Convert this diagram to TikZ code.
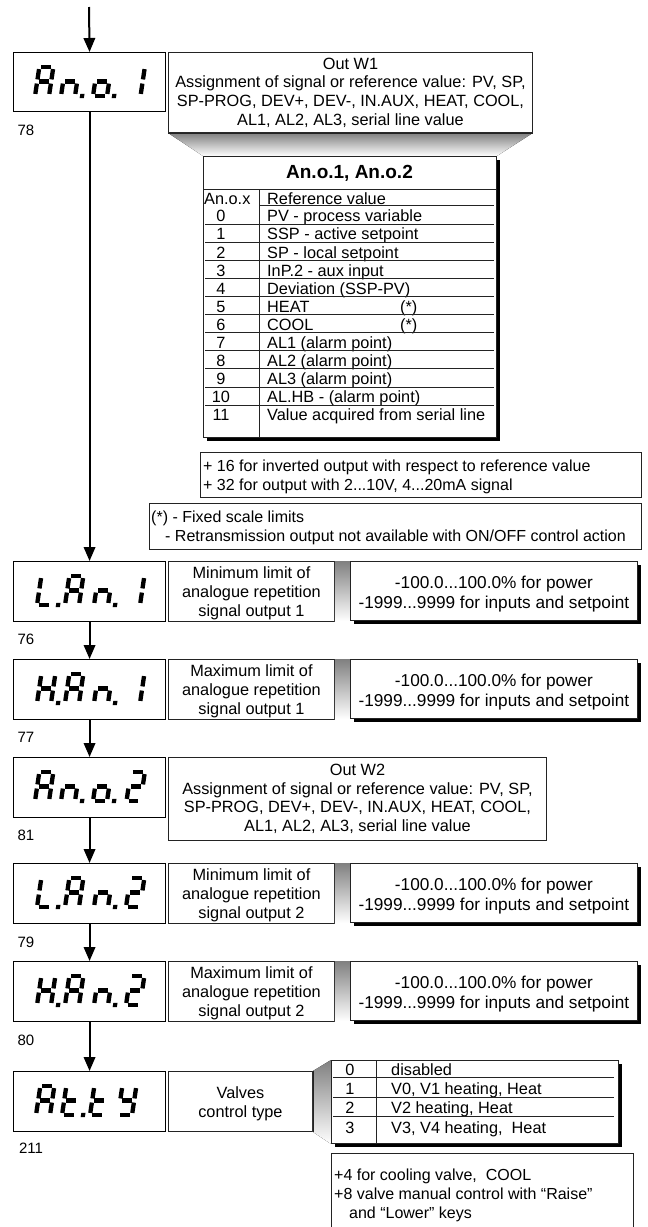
\documentclass[tikz,border=0pt]{standalone}
\usepackage{fontspec}
\setmainfont{Liberation Sans}
\usetikzlibrary{arrows.meta,shadows}
\definecolor{shade}{RGB}{200,200,200}
\definecolor{edge}{RGB}{35,35,35}
\newcommand\fmain{\fontsize{16.3}{18.7}\selectfont}
\newcommand\fnote{\fontsize{16}{18.8}\selectfont}
\newcommand\fval{\fontsize{17.2}{20}\selectfont}
\newcommand\flbl{\fontsize{15}{17}\selectfont}
\newcommand\ftitle{\fontsize{19}{22}\selectfont\bfseries}
% seven-segment glyphs
\newcommand\sgA{\draw[seg] (0,29)--(14,29);}
\newcommand\sgB{\draw[seg] (14,29)--(14,14.5);}
\newcommand\sgC{\draw[seg] (14,14.5)--(14,0);}
\newcommand\sgD{\draw[seg] (0,0)--(14,0);}
\newcommand\sgE{\draw[seg] (0,14.5)--(0,0);}
\newcommand\sgF{\draw[seg] (0,29)--(0,14.5);}
\newcommand\sgG{\draw[seg] (0,14.5)--(14,14.5);}
\newcommand\chA{\sgA\sgB\sgC\sgE\sgF\sgG}
\newcommand\chN{\sgC\sgE\sgG}
\newcommand\chO{\sgC\sgD\sgE\sgG}
\newcommand\chOne{\sgB\sgC}
\newcommand\chTwo{\sgA\sgB\sgG\sgE\sgD}
\newcommand\chL{\sgD\sgE\sgF}
\newcommand\chH{\sgB\sgC\sgE\sgF\sgG}
\newcommand\chT{\sgD\sgE\sgF\sgG}
\newcommand\chY{\sgB\sgC\sgD\sgF\sgG}
\newcommand\chDP{\fill (19,-2.1) rectangle (23.2,2.1);}
\newcommand\lcdglyph[3]{\begin{scope}[shift={(#1,#2)},yscale=-1,xslant=-0.15]#3\end{scope}}
% An.o. style spacing
\newcommand\lcdshowA[6]{%
  \lcdglyph{#1+22}{#2+44}{#3}%
  \lcdglyph{#1+48}{#2+44}{#4}%
  \lcdglyph{#1+80}{#2+44}{#5}%
  \lcdglyph{#1+113.5}{#2+44}{#6}}
% L.An / H.An style spacing
\newcommand\lcdshowB[6]{%
  \lcdglyph{#1+24}{#2+44}{#3}%
  \lcdglyph{#1+52}{#2+44}{#4}%
  \lcdglyph{#1+81}{#2+44}{#5}%
  \lcdglyph{#1+113}{#2+44}{#6}}
\begin{document}
\begin{tikzpicture}[x=1pt,y=-1pt,
  seg/.style={line width=4.3pt,line cap=butt,shorten <=2.1pt,shorten >=2.1pt},
  dispbox/.style={draw=black,line width=1.1pt,fill=white,minimum width=152pt,minimum height=60pt,inner sep=0pt,anchor=north west},
  box/.style={draw=edge,line width=0.9pt,fill=white,inner sep=0pt,anchor=north west,align=center,font=\fmain},
  valbox/.style={box,minimum width=287pt,minimum height=59pt,
     drop shadow={shadow xshift=4pt,shadow yshift=-4pt,fill=black,opacity=1}},
  tabbox/.style={box,drop shadow={shadow xshift=4pt,shadow yshift=-4pt,fill=black,opacity=1}},
  descbox/.style={box,minimum width=166pt,minimum height=60pt},
  valtext/.style={font=\fval,align=center,inner sep=0pt,yshift=-3pt},
  desctext/.style={font=\fmain,align=center,inner sep=0pt,yshift=-2pt},
  cell/.style={font=\fmain,inner sep=0pt},
  notetext/.style={font=\fnote,inner sep=0pt,anchor=north west,align=left},
  lbl/.style={font=\flbl,inner sep=0pt},
  rule/.style={line width=0.8pt,draw=edge},
  arr/.style={line width=2pt,-{Triangle[length=14pt,width=11.5pt]}}]
\useasboundingbox (0,0) rectangle (648,1227);
\clip (0,0) rectangle (648,1227);
\fill[white] (0,0) rectangle (648,1227);

% ---------- display boxes ----------
\node[dispbox,minimum height=59pt] (d1) at (13,52) {};
\node[dispbox] (d2) at (13,561) {};
\node[dispbox] (d3) at (13,659) {};
\node[dispbox] (d4) at (13,757) {};
\node[dispbox] (d5) at (13,863) {};
\node[dispbox] (d6) at (13,961) {};
\node[dispbox] (d7) at (13,1071) {};
\lcdshowA{13}{52}{\chA}{\chN\chDP}{\chO\chDP}{\chOne}
\lcdshowB{13}{561}{\chL\chDP}{\chA}{\chN\chDP}{\chOne}
\lcdshowB{13}{659}{\chH\chDP}{\chA}{\chN\chDP}{\chOne}
\lcdshowA{13}{757}{\chA}{\chN\chDP}{\chO\chDP}{\chTwo}
\lcdshowB{13}{863}{\chL\chDP}{\chA}{\chN\chDP}{\chTwo}
\lcdshowB{13}{961}{\chH\chDP}{\chA}{\chN\chDP}{\chTwo}
\lcdglyph{13+23}{1071+44}{\chA}
\lcdglyph{13+49}{1071+44}{\chT\chDP}
\lcdglyph{13+77}{1071+44}{\chT}
\lcdglyph{13+105}{1071+44}{\chY}

% ---------- parameter numbers ----------
\node[lbl] (n78) at (26,130) {78};
\node[lbl] (n76) at (26,639) {76};
\node[lbl] (n77) at (26,737) {77};
\node[lbl] (n81) at (26,835) {81};
\node[lbl] (n79) at (26,942) {79};
\node[lbl] (n80) at (26,1040) {80};
\node[lbl] (n211) at (31,1148) {211};

% ---------- connectors ----------
\coordinate (start) at (89,7);
\draw[arr] (start) -- (d1.north);
\draw[arr] (d1.south) -- (d2.north);
\draw[arr] (d2.south) -- (d3.north);
\draw[arr] (d3.south) -- (d4.north);
\draw[arr] (d4.south) -- (d5.north);
\draw[arr] (d5.south) -- (d6.north);
\draw[arr] (d6.south) -- (d7.north);

% ---------- Out W1 with reference table ----------
\node[tabbox,minimum width=293pt,minimum height=281pt] (tab) at (203,156) {};
\node[box,minimum width=364pt,minimum height=80pt] (w1) at (168,52)
  {Out W1\\Assignment of signal or reference value: PV, SP,\\SP-PROG, DEV+, DEV-, IN.AUX, HEAT, COOL,\\AL1, AL2, AL3, serial line value};
\fill[shade] (w1.south west) -- (w1.south east) -- (tab.north east) -- (tab.north west) -- cycle;
\draw[rule] (w1.south west) -- (w1.south east);
\draw[rule] (tab.north west) -- (tab.north east);
\node[font=\ftitle,inner sep=0pt] (ttl) at (349.5,173) {An.o.1, An.o.2};
\draw[rule] (203,189) -- (496,189);
\draw[rule] (259,189) -- (259,437);
\node[cell,anchor=base west] (hx) at (204,204) {An.o.x};
\node[cell,anchor=base west] (hr) at (267,204) {Reference value};
\draw[rule] (259,205.5) -- (494,205.5);
\foreach \num/\txt [count=\k from 0] in {0/PV - process variable,1/SSP - active setpoint,2/SP - local setpoint,3/InP.2 - aux input,4/Deviation (SSP-PV),5/HEAT,6/COOL,7/AL1 (alarm point),8/AL2 (alarm point),9/AL3 (alarm point),10/AL.HB - (alarm point),11/Value acquired from serial line}{
  \node[cell,anchor=base] (rn\k) at (221,221.8+18.1*\k) {\num};
  \node[cell,anchor=base west] (rt\k) at (267,221.8+18.1*\k) {\txt};
}
\node[cell,anchor=base west] (st5) at (400,221.8+18.1*5) {(*)};
\node[cell,anchor=base west] (st6) at (400,221.8+18.1*6) {(*)};
\foreach \k in {0,...,10}{\draw[rule] (205,224+18.1*\k) -- (494,224+18.1*\k);}

% ---------- notes ----------
\node[box,minimum width=441pt,minimum height=45pt] (note1) at (200,452) {};
\node[notetext] (note1t) at (203,460) {+ 16 for inverted output with respect to reference value\\+ 32 for output with 2...10V, 4...20mA signal};
\node[box,minimum width=492pt,minimum height=46pt] (note2) at (149,503) {};
\node[notetext] (note2t) at (151,511) {(*) - Fixed scale limits\\\hspace*{14pt}- Retransmission output not available with ON/OFF control action};

% ---------- limit rows ----------
\node[descbox] (m2) at (168,561) {};
\node[desctext] (m2t) at (m2.center) {Minimum limit of\\analogue repetition\\signal output 1};
\fill[shade] (m2.north east) rectangle (350,621);
\node[valbox] (v2) at (350,561) {};
\node[valtext] (v2t) at (v2.center) {-100.0...100.0\% for power\\-1999...9999 for inputs and setpoint};

\node[descbox] (m3) at (168,659) {};
\node[desctext] (m3t) at (m3.center) {Maximum limit of\\analogue repetition\\signal output 1};
\fill[shade] (m3.north east) rectangle (350,719);
\node[valbox] (v3) at (350,659) {};
\node[valtext] (v3t) at (v3.center) {-100.0...100.0\% for power\\-1999...9999 for inputs and setpoint};

\node[box,minimum width=378pt,minimum height=83pt] (w2) at (168,757)
  {Out W2\\Assignment of signal or reference value: PV, SP,\\SP-PROG, DEV+, DEV-, IN.AUX, HEAT, COOL,\\AL1, AL2, AL3, serial line value};

\node[descbox] (m5) at (168,863) {};
\node[desctext] (m5t) at (m5.center) {Minimum limit of\\analogue repetition\\signal output 2};
\fill[shade] (m5.north east) rectangle (350,923);
\node[valbox] (v5) at (350,863) {};
\node[valtext] (v5t) at (v5.center) {-100.0...100.0\% for power\\-1999...9999 for inputs and setpoint};

\node[descbox] (m6) at (168,961) {};
\node[desctext] (m6t) at (m6.center) {Maximum limit of\\analogue repetition\\signal output 2};
\fill[shade] (m6.north east) rectangle (350,1021);
\node[valbox] (v6) at (350,961) {};
\node[valtext] (v6t) at (v6.center) {-100.0...100.0\% for power\\-1999...9999 for inputs and setpoint};

% ---------- valves ----------
\node[box,minimum width=144pt,minimum height=60pt] (m7) at (168,1071) {};
\node[desctext] (m7t) at (m7.center) {Valves\\control type};
\node[tabbox,minimum width=287pt,minimum height=83pt] (vt) at (331,1060) {};
\fill[shade] (m7.north east) -- (vt.north west) -- (vt.south west) -- (m7.south east) -- cycle;
\draw[rule] (vt.north west) -- (vt.south west);
\draw[rule] (m7.north east) -- (m7.south east);
\draw[rule] (376,1060) -- (376,1143);
\foreach \num/\txt [count=\k from 0] in {0/disabled,1/{V0, V1 heating, Heat},2/{V2 heating, Heat},3/{V3, V4 heating,~ Heat}}{
  \node[cell,anchor=base] (vn\k) at (350,1075.5+19.2*\k) {\num};
  \node[cell,anchor=base west] (vx\k) at (391,1075.5+19.2*\k) {\txt};
}
\foreach \y in {1077.5,1097,1116.5}{\draw[rule] (333,\y) -- (614,\y);}
\node[box,minimum width=302pt,minimum height=100pt] (note3) at (331,1153) {};
\node[notetext] (note3t) at (334,1169)
  {+4 for cooling valve,~ COOL\\+8 valve manual control with “Raise”\\\hspace*{15pt}and “Lower” keys};
\end{tikzpicture}
\end{document}
